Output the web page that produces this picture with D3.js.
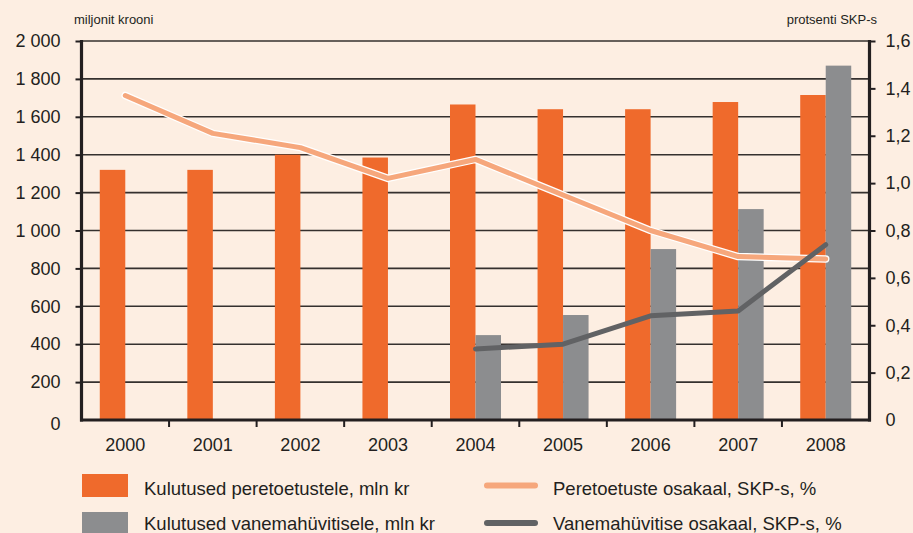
<!DOCTYPE html>
<html>
<head>
<meta charset="utf-8">
<script src="https://cdn.jsdelivr.net/npm/d3@7"></script>
<style>
  html, body { margin: 0; padding: 0; background: #fdeee2; }
  svg { display: block; font-family: "Liberation Sans", Arial, sans-serif; }
</style>
</head>
<body>
<svg id="chart" width="913" height="533"></svg>
<script>
// Years on the category axis
const years = ["2000", "2001", "2002", "2003", "2004", "2005", "2006", "2007", "2008"];
// Spending on family benefits, million kroons
const familyBenefits = [1320, 1320, 1400, 1385, 1665, 1640, 1640, 1678, 1715];
// Spending on parental benefit, million kroons
const parentalBenefits = [null, null, null, null, 448, 554, 902, 1113, 1870];
// Family benefits share of GDP, %
const familyShare = [1.37, 1.21, 1.15, 1.02, 1.10, 0.95, 0.80, 0.69, 0.68];
// Parental benefit share of GDP, %
const parentalShare = [null, null, null, null, 0.30, 0.32, 0.44, 0.46, 0.74];
// Axis tick values
const leftTicks = [0, 200, 400, 600, 800, 1000, 1200, 1400, 1600, 1800, 2000];
const rightTicks = [0, 0.2, 0.4, 0.6, 0.8, 1.0, 1.2, 1.4, 1.6];

const C = {
  bg: "#fdeee2",
  ink: "#231f20",
  grid: "#35302e",
  orange: "#ef6a2c",
  grey: "#8c8d8f",
  salmon: "#f6a77c",
  darkLine: "#616264"
};

const et = d3.formatLocale({ decimal: ",", thousands: " ", grouping: [3], currency: ["", ""] });
const fmtLeft = et.format(",");
const fmtRight = d => d === 0 ? "0" : et.format(".1f")(d);

const svg = d3.select("#chart");
const plot = { left: 81.5, right: 869.5, top: 41, bottom: 420 };

const x = d3.scaleBand().domain(years).range([plot.left, plot.right]).padding(0);
const yL = d3.scaleLinear().domain([0, 2000]).range([plot.bottom, plot.top]);
const yR = d3.scaleLinear().domain([0, 1.6]).range([plot.bottom, plot.top]);
const barW = 25.5;

svg.append("rect").attr("width", 913).attr("height", 533).attr("fill", C.bg);

// Horizontal grid
svg.append("g").selectAll("line").data(leftTicks.filter(d => d > 0)).join("line")
  .attr("x1", plot.left).attr("x2", plot.right)
  .attr("y1", d => yL(d)).attr("y2", d => yL(d))
  .attr("stroke", C.grid).attr("stroke-width", 1.6);

// Bars
const rows = years.map((y, i) => ({ year: y, fam: familyBenefits[i], par: parentalBenefits[i], fs: familyShare[i], ps: parentalShare[i] }));
const cx = d => x(d.year) + x.bandwidth() / 2;

svg.append("g").selectAll("rect").data(rows).join("rect")
  .attr("x", d => cx(d) - barW).attr("width", barW)
  .attr("y", d => yL(d.fam)).attr("height", d => plot.bottom - yL(d.fam))
  .attr("fill", C.orange);

svg.append("g").selectAll("rect").data(rows.filter(d => d.par != null)).join("rect")
  .attr("x", d => cx(d)).attr("width", barW)
  .attr("y", d => yL(d.par)).attr("height", d => plot.bottom - yL(d.par))
  .attr("fill", C.grey);

// Axes
const axisL = d3.axisLeft(yL).tickValues(leftTicks).tickFormat(fmtLeft).tickSize(6).tickPadding(15);
const gL = svg.append("g").attr("transform", `translate(${plot.left},0)`).call(axisL);
const axisR = d3.axisRight(yR).tickValues(rightTicks).tickFormat(fmtRight).tickSize(6).tickPadding(10);
const gR = svg.append("g").attr("transform", `translate(${plot.right},0)`).call(axisR);
const axisB = d3.axisBottom(x).tickSize(0).tickPadding(18);
const gB = svg.append("g").attr("transform", `translate(0,${plot.bottom})`).call(axisB);

[gL, gR, gB].forEach(g => {
  g.select(".domain").remove();
  g.selectAll(".tick line").attr("stroke", C.ink).attr("stroke-width", 2);
  g.selectAll(".tick text").attr("fill", C.ink).style("font-size", "18px")
    .style("font-family", '"Liberation Sans", Arial, sans-serif');
});
// zero labels sit slightly below the baseline
gL.selectAll(".tick").filter(d => d === 0).select("text").attr("dy", "0.5em");
gL.selectAll(".tick").filter(d => d === 0).select("line").remove();
gR.selectAll(".tick").filter(d => d === 0).select("line").remove();

// Category boundary ticks on the bottom axis
const bounds = years.slice(1).map(y => x(y));
svg.append("g").selectAll("line").data(bounds).join("line")
  .attr("x1", d => d).attr("x2", d => d).attr("y1", plot.bottom).attr("y2", plot.bottom + 7)
  .attr("stroke", C.ink).attr("stroke-width", 2);

// Axis lines
svg.append("line").attr("x1", plot.left).attr("x2", plot.left).attr("y1", plot.top - 1).attr("y2", plot.bottom + 1.5)
  .attr("stroke", C.ink).attr("stroke-width", 3.2);
svg.append("line").attr("x1", plot.right).attr("x2", plot.right).attr("y1", plot.top - 1).attr("y2", plot.bottom + 1.5)
  .attr("stroke", C.ink).attr("stroke-width", 3.2);
svg.append("line").attr("x1", plot.left - 1.5).attr("x2", plot.right + 1.5).attr("y1", plot.bottom).attr("y2", plot.bottom)
  .attr("stroke", C.ink).attr("stroke-width", 3);

// Lines
const lineFam = d3.line().defined(d => d.fs != null).x(cx).y(d => yR(d.fs));
const linePar = d3.line().defined(d => d.ps != null).x(cx).y(d => yR(d.ps));

svg.append("path").datum(rows).attr("d", lineFam)
  .attr("fill", "none").attr("stroke", "#ffffff").attr("stroke-width", 7.5)
  .attr("stroke-linejoin", "round").attr("stroke-linecap", "round");
svg.append("path").datum(rows).attr("d", lineFam)
  .attr("fill", "none").attr("stroke", C.salmon).attr("stroke-width", 5)
  .attr("stroke-linejoin", "round").attr("stroke-linecap", "round");
svg.append("path").datum(rows.filter(d => d.ps != null)).attr("d", linePar)
  .attr("fill", "none").attr("stroke", C.darkLine).attr("stroke-width", 5)
  .attr("stroke-linejoin", "round").attr("stroke-linecap", "round");

// Axis titles
svg.append("text").attr("x", 74).attr("y", 24).text("miljonit krooni")
  .attr("fill", C.ink).style("font-size", "13px");
svg.append("text").attr("x", 877).attr("y", 24).attr("text-anchor", "end").text("protsenti SKP-s")
  .attr("fill", C.ink).style("font-size", "13px");

// Legend
const legendBars = [
  { label: "Kulutused peretoetustele, mln kr", color: C.orange, y: 474, base: 495 },
  { label: "Kulutused vanemahüvitisele, mln kr", color: C.grey, y: 512, base: 530 }
];
const lgB = svg.append("g").selectAll("g").data(legendBars).join("g");
lgB.append("rect").attr("x", 82).attr("y", d => d.y).attr("width", 46).attr("height", 23).attr("fill", d => d.color);
lgB.append("text").attr("x", 144).attr("y", d => d.base).text(d => d.label)
  .attr("fill", C.ink).style("font-size", "18.5px");

const legendLines = [
  { label: "Peretoetuste osakaal, SKP-s, %", color: C.salmon, y: 485.5, base: 494.5 },
  { label: "Vanemahüvitise osakaal, SKP-s, %", color: C.darkLine, y: 523, base: 530 }
];
const lgL = svg.append("g").selectAll("g").data(legendLines).join("g");
lgL.append("line").attr("x1", 487).attr("x2", 535).attr("y1", d => d.y).attr("y2", d => d.y)
  .attr("stroke", d => d.color).attr("stroke-width", 6).attr("stroke-linecap", "round");
lgL.append("text").attr("x", 553).attr("y", d => d.base).text(d => d.label)
  .attr("fill", C.ink).style("font-size", "18.5px");
</script>
</body>
</html>
